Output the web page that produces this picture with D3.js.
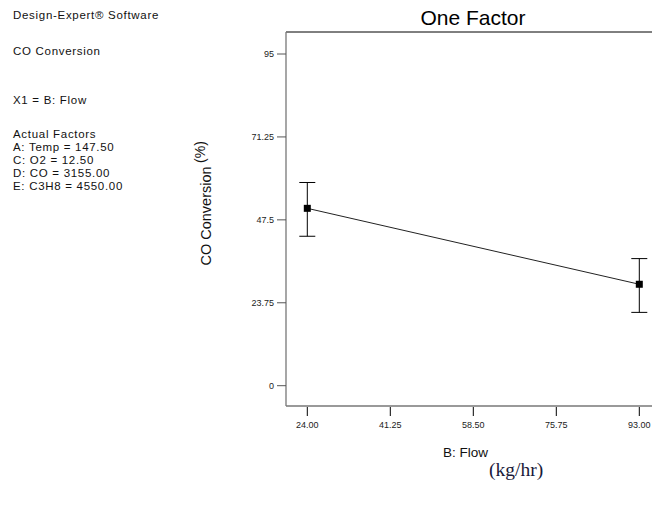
<!DOCTYPE html>
<html lang="en">
<head>
<meta charset="UTF-8">
<title>One Factor</title>
<script src="https://cdn.jsdelivr.net/npm/d3@7"></script>
<style>
    body { margin: 0; background: #fff; }
    svg { display: block; font-family: "Liberation Sans", Arial, sans-serif; }
</style>
</head>
<body>
<svg id="chart" width="652" height="510"></svg>
<script>
    // data
    var flowLevels = [24, 93];
    var predicted = [50.8, 29.05];
    var lsdLow = [42.8, 21.0];
    var lsdHigh = [58.2, 36.4];
    var xTicks = [24, 41.25, 58.5, 75.75, 93];
    var yTicks = [0, 23.75, 47.5, 71.25, 95];
    var infoLines = [
        {text: "Design-Expert\u00ae Software", y: 19},
        {text: "CO Conversion", y: 55},
        {text: "X1 = B: Flow", y: 104},
        {text: "Actual Factors", y: 138},
        {text: "A: Temp = 147.50", y: 151},
        {text: "C: O2 = 12.50", y: 164},
        {text: "D: CO = 3155.00", y: 177},
        {text: "E: C3H8 = 4550.00", y: 190}
    ];

    var svg = d3.select("#chart");

    var x = d3.scaleLinear().domain([24, 93]).range([307.3, 639.3]);
    var y = d3.scaleLinear().domain([0, 95]).range([385.7, 54]);

    var frame = {left: 286, right: 662, top: 32, bottom: 406};

    // info text on the left
    svg.append("g").selectAll("text")
        .data(infoLines)
        .enter().append("text")
        .attr("x", 13)
        .attr("y", function (d) { return d.y; })
        .attr("font-size", 11.5)
        .attr("letter-spacing", 0.7)
        .attr("fill", "#111")
        .text(function (d) { return d.text; });

    // title
    svg.append("text")
        .attr("x", 473).attr("y", 25)
        .attr("text-anchor", "middle")
        .attr("font-size", 21)
        .attr("fill", "#000")
        .text("One Factor");

    // frame
    svg.append("line")
        .attr("x1", frame.left).attr("x2", frame.right)
        .attr("y1", frame.top).attr("y2", frame.top)
        .attr("stroke", "#000").attr("stroke-width", 1);
    svg.append("line")
        .attr("x1", frame.left).attr("x2", frame.left)
        .attr("y1", frame.top).attr("y2", frame.bottom)
        .attr("stroke", "#777").attr("stroke-width", 1.3);
    svg.append("line")
        .attr("x1", frame.left).attr("x2", frame.right)
        .attr("y1", frame.bottom).attr("y2", frame.bottom)
        .attr("stroke", "#777").attr("stroke-width", 1.3);

    // y ticks
    var yg = svg.append("g");
    yg.selectAll("line")
        .data(yTicks)
        .enter().append("line")
        .attr("x1", frame.left - 9).attr("x2", frame.left)
        .attr("y1", function (d) { return y(d); })
        .attr("y2", function (d) { return y(d); })
        .attr("stroke", "#555");
    yg.selectAll("text")
        .data(yTicks)
        .enter().append("text")
        .attr("x", frame.left - 12)
        .attr("y", function (d) { return y(d) + 3; })
        .attr("text-anchor", "end")
        .attr("font-size", 9)
        .attr("fill", "#222")
        .text(function (d) { return d; });

    // x ticks
    var xg = svg.append("g");
    xg.selectAll("line")
        .data(xTicks)
        .enter().append("line")
        .attr("x1", function (d) { return x(d); })
        .attr("x2", function (d) { return x(d); })
        .attr("y1", frame.bottom + 1).attr("y2", frame.bottom + 10)
        .attr("stroke", "#000");
    xg.selectAll("text")
        .data(xTicks)
        .enter().append("text")
        .attr("x", function (d) { return x(d); })
        .attr("y", frame.bottom + 22)
        .attr("text-anchor", "middle")
        .attr("font-size", 9)
        .attr("fill", "#222")
        .text(function (d) { return d3.format(".2f")(d); });

    // axis titles
    svg.append("text")
        .attr("transform", "translate(211,216) rotate(-90)")
        .attr("text-anchor", "middle")
        .attr("font-size", 14.5)
        .attr("fill", "#111")
        .text("CO Conversion");
    svg.append("text")
        .attr("transform", "translate(205,152) rotate(-90)")
        .attr("text-anchor", "middle")
        .attr("font-size", 14)
        .attr("fill", "#111")
        .text("(%)");

    svg.append("text")
        .attr("x", 443).attr("y", 457)
        .attr("font-size", 13.5)
        .attr("fill", "#111")
        .text("B: Flow");
    svg.append("text")
        .attr("x", 489).attr("y", 476)
        .attr("font-family", "'Liberation Serif', 'DejaVu Serif', serif")
        .attr("font-size", 19.5)
        .attr("fill", "#1a1a3a")
        .text("(kg/hr)");

    // prediction line
    var pts = flowLevels.map(function (f, i) {
        return {f: f, p: predicted[i], lo: lsdLow[i], hi: lsdHigh[i]};
    });

    svg.append("path")
        .datum(pts)
        .attr("fill", "none")
        .attr("stroke", "#222")
        .attr("stroke-width", 1)
        .attr("d", d3.line()
            .x(function (d) { return x(d.f); })
            .y(function (d) { return y(d.p); }));

    // error bars
    var eb = svg.append("g").attr("stroke", "#000").attr("stroke-width", 1);
    eb.selectAll(".stem")
        .data(pts)
        .enter().append("line")
        .attr("x1", function (d) { return x(d.f); })
        .attr("x2", function (d) { return x(d.f); })
        .attr("y1", function (d) { return y(d.hi); })
        .attr("y2", function (d) { return y(d.lo); });
    eb.selectAll(".capTop")
        .data(pts)
        .enter().append("line")
        .attr("x1", function (d) { return x(d.f) - 8; })
        .attr("x2", function (d) { return x(d.f) + 8; })
        .attr("y1", function (d) { return y(d.hi); })
        .attr("y2", function (d) { return y(d.hi); });
    eb.selectAll(".capBot")
        .data(pts)
        .enter().append("line")
        .attr("x1", function (d) { return x(d.f) - 8; })
        .attr("x2", function (d) { return x(d.f) + 8; })
        .attr("y1", function (d) { return y(d.lo); })
        .attr("y2", function (d) { return y(d.lo); });

    // markers
    svg.append("g").selectAll("rect")
        .data(pts)
        .enter().append("rect")
        .attr("x", function (d) { return x(d.f) - 3.5; })
        .attr("y", function (d) { return y(d.p) - 3.5; })
        .attr("width", 7).attr("height", 7)
        .attr("fill", "#000");
</script>
</body>
</html>
